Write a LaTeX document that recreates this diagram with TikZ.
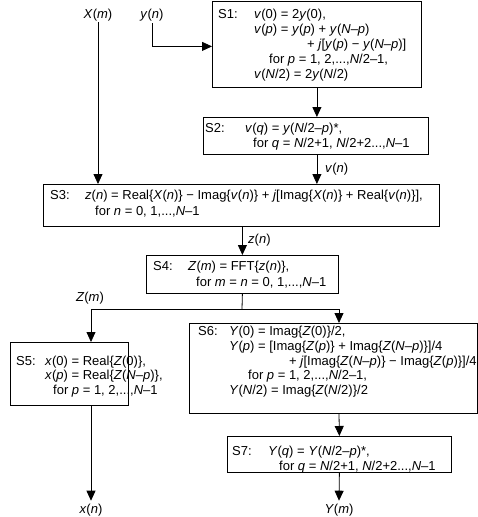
\documentclass[tikz,border=0pt]{standalone}
\usepackage{fontspec}
\setmainfont{Liberation Sans}
\usetikzlibrary{arrows.meta}
\newcommand\vi[1]{\textit{#1}}
\begin{document}
\begin{tikzpicture}[x=1pt,y=-1pt,
  font=\fontsize{13}{15}\selectfont,
  box/.style={draw, line width=0.8pt, inner sep=0, anchor=north west},
  txt/.style={anchor=west, inner sep=0, text height=9.5pt, text depth=2.7pt},
  lbl/.style={inner sep=0, text height=9.5pt, text depth=2.7pt},
  arr/.style={line width=0.8pt, -{Triangle[length=10pt,width=9pt]}},
  ln/.style={line width=0.8pt}]
\useasboundingbox (0,0) rectangle (478,517);
% boxes
\node[box, minimum width=209pt, minimum height=86pt] (S1) at (212,1) {};
\node[box, minimum width=225pt, minimum height=37pt] (S2) at (203,117) {};
\node[box, minimum width=396pt, minimum height=42pt] (S3) at (43,184) {};
\node[box, minimum width=192pt, minimum height=38pt] (S4) at (146,255) {};
\node[box, minimum width=118pt, minimum height=63pt] (S5) at (10,342) {};
\node[box, minimum width=288pt, minimum height=90pt] (S6) at (189,323) {};
\node[box, minimum width=224pt, minimum height=36pt] (S7) at (227,436) {};
% S1 text
\node[txt] (s1l) at (218,15) {S1:};
\node[txt] (s1a) at (254,15) {\vi{v}(0) = 2\vi{y}(0),};
\node[txt] (s1b) at (254,30) {\vi{v}(\vi{p}) = \vi{y}(\vi{p}) + \vi{y}(\vi{N}\textendash\vi{p})};
\node[txt] (s1c) at (307,45) {+ \vi{j}[\vi{y}(\vi{p}) − \vi{y}(\vi{N}\textendash\vi{p})]};
\node[txt] (s1d) at (269,60) {for \vi{p} = 1, 2,...,\vi{N}/2\textendash1,};
\node[txt] (s1e) at (254,75) {\vi{v}(\vi{N}/2) = 2\vi{y}(\vi{N}/2)};
% S2 text
\node[txt] (s2l) at (205,129) {S2:};
\node[txt] (s2a) at (245,129) {\vi{v}(\vi{q}) = \vi{y}(\vi{N}/2\textendash\vi{p})*,};
\node[txt] (s2b) at (253,144) {for \vi{q} = \vi{N}/2+1, \vi{N}/2+2...,\vi{N}\textendash1};
% S3 text
\node[txt] (s3l) at (50,196) {S3:};
\node[txt] (s3a) at (85,196) {\vi{z}(\vi{n}) = Real\{\vi{X}(\vi{n})\} − Imag\{\vi{v}(\vi{n})\} + \vi{j}[Imag\{\vi{X}(\vi{n})\} + Real\{\vi{v}(\vi{n})\}],};
\node[txt] (s3b) at (95,212) {for \vi{n} = 0, 1,...,\vi{N}\textendash1};
% S4 text
\node[txt] (s4l) at (153,267) {S4:};
\node[txt] (s4a) at (188,267) {\vi{Z}(\vi{m}) = FFT\{\vi{z}(\vi{n})\},};
\node[txt] (s4b) at (196,283) {for \vi{m} = \vi{n} = 0, 1,...,\vi{N}\textendash1};
% S5 text
\node[txt] (s5l) at (16,362) {S5:};
\node[txt] (s5a) at (45,362) {\vi{x}(0) = Real\{\vi{Z}(0)\},};
\node[txt] (s5b) at (45,376) {\vi{x}(\vi{p}) = Real\{\vi{Z}(\vi{N}\textendash\vi{p})\},};
\node[txt] (s5c) at (53,391) {for \vi{p} = 1, 2,...,\vi{N}\textendash1};
% S6 text
\node[txt] (s6l) at (198,332) {S6:};
\node[txt] (s6a) at (229,332) {\vi{Y}(0) = Imag\{\vi{Z}(0)\}/2,};
\node[txt] (s6b) at (229,347) {\vi{Y}(\vi{p}) = [Imag\{\vi{Z}(\vi{p})\} + Imag\{\vi{Z}(\vi{N}\textendash\vi{p})\}]/4};
\node[txt] (s6c) at (289,362) {+ \vi{j}[Imag\{\vi{Z}(\vi{N}\textendash\vi{p})\} − Imag\{\vi{Z}(\vi{p})\}]/4};
\node[txt] (s6d) at (248,376) {for \vi{p} = 1, 2,...,\vi{N}/2\textendash1,};
\node[txt] (s6e) at (229,391) {\vi{Y}(\vi{N}/2) = Imag\{\vi{Z}(\vi{N}/2)\}/2};
% S7 text
\node[txt] (s7l) at (232,452) {S7:};
\node[txt] (s7a) at (268,452) {\vi{Y}(\vi{q}) = \vi{Y}(\vi{N}/2\textendash\vi{p})*,};
\node[txt] (s7b) at (279,467) {for \vi{q} = \vi{N}/2+1, \vi{N}/2+2...,\vi{N}\textendash1};
% labels
\node[lbl] (Xm) at (98,15) {\vi{X}(\vi{m})};
\node[lbl] (yn) at (152,15) {\vi{y}(\vi{n})};
\node[lbl, anchor=west] (vn) at (325,169) {\vi{v}(\vi{n})};
\node[lbl, anchor=west] (zn) at (248,240) {\vi{z}(\vi{n})};
\node[lbl] (Zm) at (90,298) {\vi{Z}(\vi{m})};
\node[lbl] (xn) at (91,510) {\vi{x}(\vi{n})};
\node[lbl] (Ym) at (339,510) {\vi{Y}(\vi{m})};
% coordinates
\coordinate (J) at (242,309);
\coordinate (L) at (91,309);
\coordinate (R) at (339,309);
% connectors
\draw[arr] ([yshift=-1pt]Xm.south) -- (Xm |- S3.north);
\draw[arr] ([yshift=-2pt]yn.south) |- ([yshift=-2pt]S1.west);
\draw[arr] (S1.south) -- (S1.south |- S2.north);
\draw[arr] (S1.south |- S2.south) -- (S1.south |- S3.north);
\draw[arr] (S4.north |- S3.south) -- (S4.north);
\draw[ln] (S4.south) -- (J);
\draw[ln] (L) -- (R);
\draw[arr] (L) -- (L |- S5.north);
\draw[arr] (R) -- (R |- S6.north);
\draw[arr] (R |- S6.south) -- (S7.north);
\draw[arr] (L |- S5.south) -- ([yshift=3pt]xn.north);
\draw[arr] (S7.south) -- ([yshift=3pt]Ym.north);
\end{tikzpicture}
\end{document}
